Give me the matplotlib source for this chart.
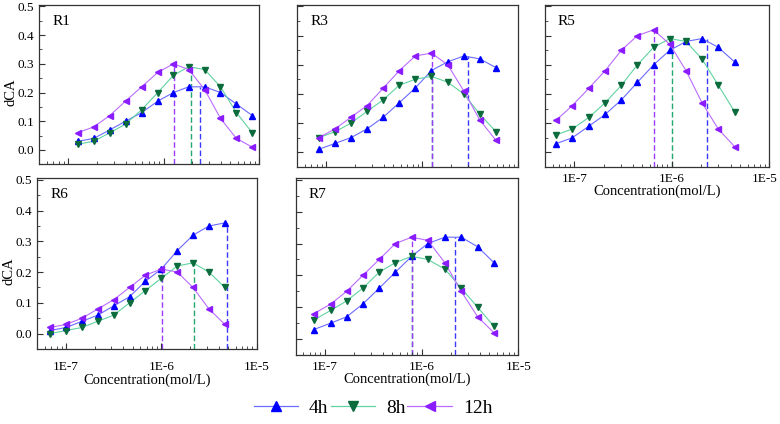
import numpy as np
import matplotlib
matplotlib.use("Agg")
from matplotlib import pyplot as plt
from matplotlib.ticker import FixedLocator, MultipleLocator, LogLocator, FuncFormatter, NullFormatter
from matplotlib.lines import Line2D

plt.rcParams['font.family'] = ['Liberation Serif', 'DejaVu Serif']

# series labels
times = ['4h', '8h', '12h']

# R1
r1_x = [1.26e-7, 1.85e-7, 2.74e-7, 4.0e-7, 5.9e-7, 8.7e-7, 1.27e-6, 1.84e-6, 2.7e-6, 3.95e-6, 5.8e-6, 8.5e-6]
r1_4h = [0.03, 0.04, 0.07, 0.10, 0.13, 0.17, 0.20, 0.22, 0.22, 0.20, 0.16, 0.12]
r1_8h = [0.02, 0.03, 0.06, 0.09, 0.14, 0.20, 0.26, 0.29, 0.28, 0.22, 0.13, 0.06]
r1_12h = [0.06, 0.08, 0.12, 0.17, 0.22, 0.27, 0.30, 0.28, 0.21, 0.11, 0.04, 0.01]
r1_peak_x = [2.39e-6, 1.95e-6, 1.30e-6]
r1_peak_y = [0.22, 0.29, 0.30]

# R3
r3_x = [8.4e-8, 1.24e-7, 1.82e-7, 2.67e-7, 3.95e-7, 5.8e-7, 8.5e-7, 1.25e-6, 1.85e-6, 2.72e-6, 4.0e-6, 5.9e-6]
r3_4h = [0.01, 0.03, 0.05, 0.08, 0.12, 0.17, 0.22, 0.28, 0.31, 0.33, 0.32, 0.29]
r3_8h = [0.05, 0.07, 0.10, 0.14, 0.18, 0.23, 0.25, 0.26, 0.24, 0.20, 0.13, 0.07]
r3_12h = [0.05, 0.08, 0.12, 0.16, 0.22, 0.28, 0.33, 0.34, 0.30, 0.21, 0.11, 0.04]
r3_peak_x = [2.98e-6, 1.26e-6, 1.28e-6]
r3_peak_y = [0.33, 0.26, 0.34]

# R5
r5_x = [6.5e-8, 9.5e-8, 1.41e-7, 2.07e-7, 3.04e-7, 4.43e-7, 6.5e-7, 9.55e-7, 1.4e-6, 2.04e-6, 3.0e-6, 4.4e-6]
r5_4h = [0.03, 0.05, 0.09, 0.13, 0.18, 0.24, 0.30, 0.35, 0.38, 0.39, 0.36, 0.31]
r5_8h = [0.06, 0.08, 0.12, 0.17, 0.23, 0.30, 0.36, 0.39, 0.38, 0.32, 0.23, 0.14]
r5_12h = [0.11, 0.16, 0.22, 0.28, 0.35, 0.40, 0.42, 0.37, 0.28, 0.17, 0.08, 0.02]
r5_peak_x = [2.28e-6, 1.0e-6, 6.6e-7]
r5_peak_y = [0.39, 0.39, 0.42]

# R6
r6_x = [6.8e-8, 1e-7, 1.47e-7, 2.15e-7, 3.16e-7, 4.64e-7, 6.8e-7, 1e-6, 1.47e-6, 2.15e-6, 3.16e-6, 4.64e-6]
r6_4h = [0.01, 0.02, 0.04, 0.06, 0.09, 0.12, 0.17, 0.21, 0.27, 0.32, 0.35, 0.36]
r6_8h = [0.00, 0.01, 0.02, 0.04, 0.06, 0.10, 0.14, 0.18, 0.22, 0.23, 0.20, 0.15]
r6_12h = [0.02, 0.03, 0.05, 0.08, 0.11, 0.15, 0.19, 0.21, 0.20, 0.15, 0.08, 0.03]
r6_peak_x = [4.83e-6, 2.22e-6, 1.01e-6]
r6_peak_y = [0.36, 0.23, 0.21]

# R7
r7_x = [7.7e-8, 1.15e-7, 1.68e-7, 2.47e-7, 3.65e-7, 5.36e-7, 7.9e-7, 1.16e-6, 1.74e-6, 2.57e-6, 3.8e-6, 5.6e-6]
r7_4h = [0.03, 0.05, 0.07, 0.11, 0.16, 0.21, 0.26, 0.30, 0.32, 0.32, 0.29, 0.24]
r7_8h = [0.06, 0.09, 0.12, 0.16, 0.21, 0.24, 0.26, 0.25, 0.22, 0.16, 0.10, 0.04]
r7_12h = [0.08, 0.11, 0.15, 0.20, 0.25, 0.30, 0.32, 0.31, 0.24, 0.15, 0.07, 0.02]
r7_peak_x = [2.21e-6, 7.9e-7, 7.9e-7]
r7_peak_y = [0.32, 0.26, 0.32]

# x tick labels
xticks = [1e-7, 1e-6, 1e-5]
xtick_labels = ['1E-7', '1E-6', '1E-5']

# colours: line, marker, dashed line
line_colors = ['#6b6bff', '#5fd3a0', '#bb6cff']
marker_colors = ['#0000ff', '#0b6b3c', '#8a1cff']
dash_colors = ['#3a3aff', '#22a870', '#9a3cff']
markers = ['^', 'v', '<']

W, H = 780, 424
fig = plt.figure(figsize=(W / 100, H / 100), dpi=100)


def rect(l, r, t, b):
    return [l / W, 1 - b / H, (r - l) / W, (b - t) / H]


def panel(box, name, x, series, peak_x, peak_y, ylabels, xlabels, xpad=4, last_inside=False):
    ax = fig.add_axes(rect(*box))
    ax.set_xscale('log')
    ax.set_xlim(5e-8, 1e-5)
    ax.set_ylim(-0.05, 0.505)
    for i, ys in enumerate(series):
        ax.plot(x, ys, color=line_colors[i], lw=0.8, zorder=2)
        ax.plot(x, ys, ls='none', marker=markers[i], ms=4.2,
                color=marker_colors[i], zorder=3)
        # dashed drop line from the peak down to the axis
        ax.plot([peak_x[i], peak_x[i]], [-0.05, peak_y[i]], ls=(0, (4, 2)),
                color=dash_colors[i], lw=1.0, zorder=1)
    ax.yaxis.set_major_locator(MultipleLocator(0.1))
    ax.yaxis.set_minor_locator(MultipleLocator(0.05))
    ax.xaxis.set_major_locator(FixedLocator(xticks))
    ax.xaxis.set_minor_locator(LogLocator(base=10, subs=np.arange(2, 10), numticks=20))
    ax.xaxis.set_minor_formatter(NullFormatter())
    ax.tick_params(which='both', direction='in', top=False, right=False,
                   labelsize=9.5, color='#333333')
    ax.tick_params(which='major', length=4)
    ax.tick_params(which='minor', length=2)
    ax.tick_params(axis='x', pad=xpad)
    if xlabels:
        labs = list(xtick_labels)
        if last_inside:
            # last label is pushed left so it stays inside the figure
            ax.annotate(labs[-1], xy=(xticks[-1], 0), xycoords=('data', 'axes fraction'),
                        xytext=(-5, -xpad * 100 / 72), textcoords='offset pixels',
                        ha='center', va='top', fontsize=9.5)
            labs[-1] = ''
        ax.xaxis.set_major_formatter(FuncFormatter(lambda v, p: labs[p] if p is not None and p < len(labs) else ''))
        ax.set_xlabel('Concentration(mol/L)', fontsize=10.5, labelpad=0)
    else:
        ax.xaxis.set_major_formatter(NullFormatter())
    if ylabels:
        ax.yaxis.set_major_formatter(FuncFormatter(lambda v, p: '%.1f' % v))
        ax.set_ylabel('dCA', fontsize=10.5)
        ax.yaxis.set_label_coords(-0.10, 0.455)
    else:
        ax.yaxis.set_major_formatter(NullFormatter())
    for s in ax.spines.values():
        s.set_color('#333333')
        s.set_linewidth(0.9)
    ax.annotate(name, xy=(0, 1), xycoords='axes fraction', xytext=(13, -10),
                textcoords='offset pixels', ha='left', va='top', fontsize=11)
    return ax


panel((39.3, 259, 5, 164.3), 'R1', r1_x, [r1_4h, r1_8h, r1_12h], r1_peak_x, r1_peak_y, True, False)
panel((297.3, 518, 5, 166.7), 'R3', r3_x, [r3_4h, r3_8h, r3_12h], r3_peak_x, r3_peak_y, False, False)
panel((545, 769.3, 5, 167), 'R5', r5_x, [r5_4h, r5_8h, r5_12h], r5_peak_x, r5_peak_y, False, True,
      xpad=4, last_inside=True)
panel((37.3, 256.7, 178.3, 349), 'R6', r6_x, [r6_4h, r6_8h, r6_12h], r6_peak_x, r6_peak_y, True, True, xpad=9)
panel((295.7, 518.3, 178.3, 355), 'R7', r7_x, [r7_4h, r7_8h, r7_12h], r7_peak_x, r7_peak_y, False, True, xpad=4)

# legend at the bottom
handles = [Line2D([0], [0], color=line_colors[i], lw=0.9, marker=markers[i], ms=7,
                  markerfacecolor=marker_colors[i], markeredgecolor=marker_colors[i])
           for i in range(3)]
fig.legend(handles, times, loc='center', bbox_to_anchor=(373 / W, 1 - 408 / H), ncol=3,
           frameon=False, fontsize=14, handlelength=2.3, handletextpad=0.55,
           columnspacing=0.1)

fig.savefig('out.png', dpi=100)
